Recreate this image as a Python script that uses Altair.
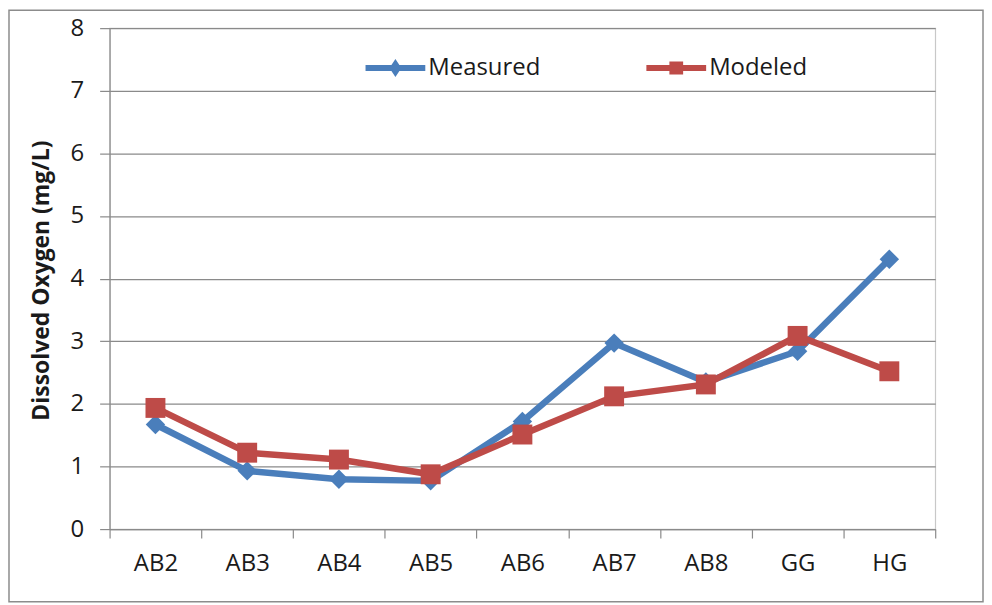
import altair as alt
import pandas as pd

stations = ["AB2", "AB3", "AB4", "AB5", "AB6", "AB7", "AB8", "GG", "HG"]
measured = [1.67, 0.93, 0.795, 0.77, 1.72, 2.97, 2.35, 2.84, 4.31]
modeled = [1.935, 1.22, 1.11, 0.875, 1.51, 2.12, 2.31, 3.085, 2.52]
series_names = ["Measured", "Modeled"]
series_colors = ["#4A7EBB", "#BE4B48"]
y_ticks = [0, 1, 2, 3, 4, 5, 6, 7, 8]

df = pd.DataFrame({
    "station": stations * 2,
    "value": measured + modeled,
    "series": ["Measured"] * len(stations) + ["Modeled"] * len(stations),
})

FONT = "Open Sans"
TXT = "#1a1a1a"
GRAY = "#8a8a8a"

legend_paths = [
    "M-1,-0.1L1,-0.1L1,0.1L-1,0.1Z M0,-0.3L0.2,0L0,0.3L-0.2,0Z",
    "M-1,-0.1L1,-0.1L1,0.1L-1,0.1Z M-0.23,-0.22L0.23,-0.22L0.23,0.22L-0.23,0.22Z",
]

legend = alt.Legend(
    orient="none", legendX=257, legendY=10, direction="horizontal", title=None,
    symbolSize=3600, labelFontSize=24, labelFont=FONT, labelColor=TXT,
    columnPadding=106, labelOffset=3, padding=0, symbolStrokeWidth=0, symbolOpacity=1,
)

x_enc = alt.X(
    "station:N", sort=stations, bandPosition=0.5,
    scale=alt.Scale(type="band", domain=stations, paddingInner=0, paddingOuter=0),
    axis=alt.Axis(title=None, tickBand="extent", grid=False, labelAngle=0,
                  labelFont=FONT, labelFontSize=24, labelColor=TXT, labelPadding=14,
                  domainColor=GRAY, tickColor=GRAY, tickSize=9, domainWidth=1.2, tickWidth=1.2),
)
y_enc = alt.Y(
    "value:Q",
    scale=alt.Scale(domain=[0, 8], nice=False, zero=True),
    axis=alt.Axis(values=y_ticks, title="Dissolved Oxygen (mg/L)", grid=True, gridColor=GRAY,
                  gridWidth=1.2, labelFont=FONT, labelFontSize=24, labelColor=TXT,
                  labelPadding=16, tickSize=10, tickColor=GRAY, domainColor=GRAY,
                  domainWidth=1.2, tickWidth=1.2,
                  titleFont=FONT, titleFontSize=23, titleFontWeight="bold", titleColor=TXT,
                  titleX=-56, titleY=253),
)
color_scale = alt.Scale(domain=series_names, range=series_colors)
color_enc = alt.Color("series:N", scale=color_scale, legend=legend)

base = alt.Chart(df)
layers = []
shapes = ["diamond", "square"]
sizes = [380, 400]
for name, shp, sz in zip(series_names, shapes, sizes):
    sub = base.transform_filter(alt.datum.series == name)
    layers.append(sub.mark_line(strokeWidth=6.5).encode(x=x_enc, y=y_enc, color=color_enc))
    layers.append(sub.mark_point(filled=True, opacity=1, shape=shp, size=sz).encode(
        x=x_enc, y=y_enc, color=color_enc))

dummy = base.transform_filter("false").mark_point(filled=True).encode(
    x=x_enc, y=y_enc,
    color=color_enc,
    shape=alt.Shape("series:N", scale=alt.Scale(domain=series_names, range=legend_paths), legend=legend),
)

border = alt.Chart(pd.DataFrame({"k": [0]})).mark_rect(
    fillOpacity=0, stroke="#8c8c8c", strokeWidth=1.5
).encode(x=alt.value(-101), x2=alt.value(877), y=alt.value(-18), y2=alt.value(576))

chart = alt.layer(border, *layers, dummy).properties(
    width=829, height=503,
    autosize=alt.AutoSizeParams(type="none"),
    padding={"left": 102, "top": 19, "right": 49, "bottom": 74},
    background="white",
).configure_view(stroke="#c8c8c8", strokeWidth=1.2)

chart.save("out.html", embed_options={"renderer": "svg", "actions": False})
